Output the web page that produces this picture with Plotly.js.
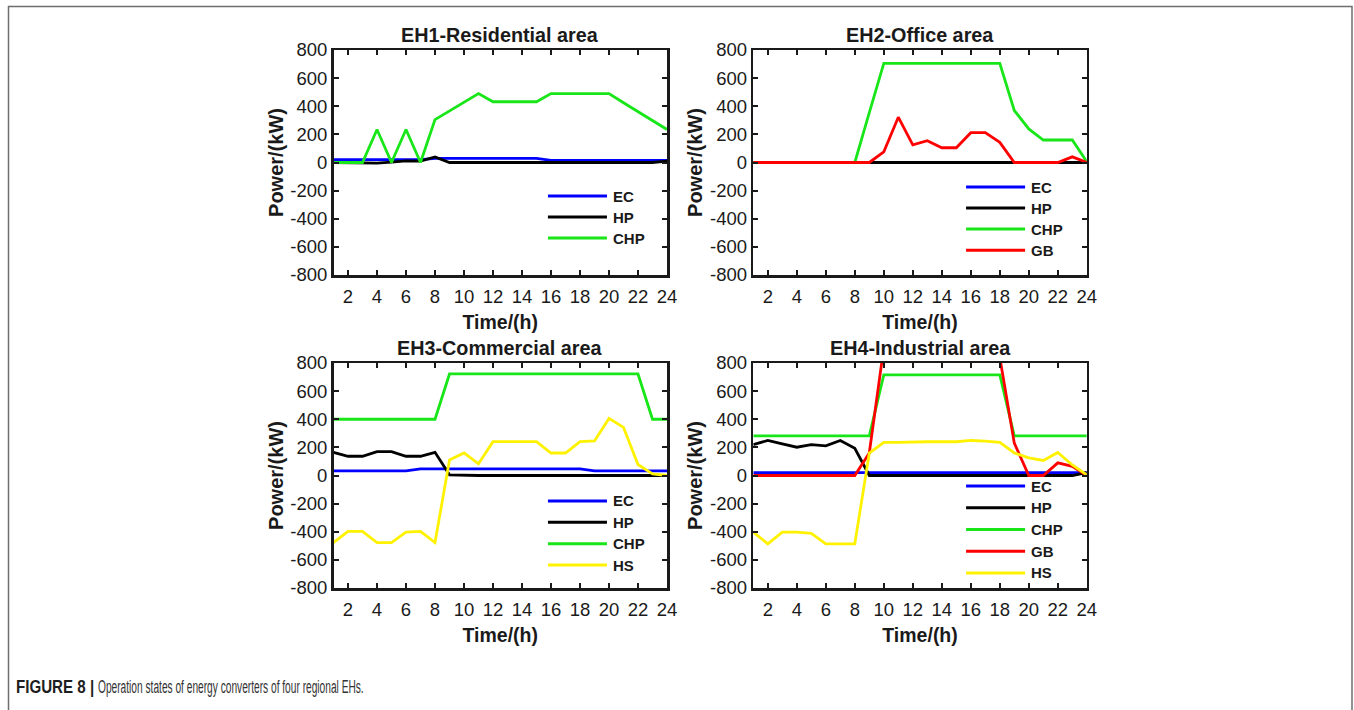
<!DOCTYPE html>
<html>
<head>
<meta charset="utf-8">
<script src="https://cdn.plot.ly/plotly-3.0.1.min.js"></script>
<style>
  html, body { margin: 0; padding: 0; background: #fff; }
  #wrap { position: relative; width: 1354px; height: 710px; overflow: hidden; }
  #chart { width: 1354px; height: 710px; }
  .cap { position: absolute; top: 677px; white-space: nowrap; font-family: "Liberation Sans", Arial, sans-serif;
         font-size: 18px; line-height: 20px; transform-origin: 0 50%; }
  #capB { left: 16px; font-weight: bold; color: #1e1e1e; transform: scaleX(0.84); }
  #capN { left: 98px; color: #333333; transform: scaleX(0.565); }
</style>
</head>
<body>
<div id="wrap">
<div id="chart"></div>
<div class="cap" id="capB"></div>
<div class="cap" id="capN"></div>
</div>
<script>
// ---------------- DATA ----------------
const hours = [1,2,3,4,5,6,7,8,9,10,11,12,13,14,15,16,17,18,19,20,21,22,23,24];

const panelTitles = ["EH1-Residential area", "EH2-Office area", "EH3-Commercial area", "EH4-Industrial area"];
const seriesNames = ["EC", "HP", "CHP", "GB", "HS"];
const seriesColors = ["#0000ff", "#000000", "#19e619", "#ff0000", "#fff200"];

const xTickVals = [2,4,6,8,10,12,14,16,18,20,22,24];
const yTickVals = [800,600,400,200,0,-200,-400,-600,-800];
const yTickText = ["800","600","400","200","0","-200","-400","-600","-800"];
const xTitle = "Time/(h)";
const yTitle = "Power/(kW)";
const captionLabel = "FIGURE 8 |";
const captionText = "Operation states of energy converters of four regional EHs.";

// EH1 - Residential
const eh1_EC  = [20,20,20,20,20,20,20,30,30,30,30,30,30,30,30,15,15,15,15,15,15,15,15,15];
const eh1_HP  = [0,0,0,-4,3,12,10,40,0,0,0,0,0,0,0,0,0,0,0,0,0,0,0,10];
const eh1_CHP = [0,0,0,235,0,235,0,305,368,430,490,432,432,432,432,490,490,490,490,490,425,360,298,235];

// EH2 - Office
const eh2_EC  = [0,0,0,0,0,0,0,0,0,0,0,0,0,0,0,0,0,0,0,0,0,0,0,0];
const eh2_HP  = [0,0,0,0,0,0,0,0,0,0,0,0,0,0,0,0,0,0,0,0,0,0,0,0];
const eh2_CHP = [0,0,0,0,0,0,0,0,355,705,705,705,705,705,705,705,705,705,370,239,160,160,160,5];
const eh2_GB  = [0,0,0,0,0,0,0,0,0,76,322,126,155,105,105,212,212,143,0,0,0,0,40,0];

// EH3 - Commercial
const eh3_EC  = [33,33,33,33,33,33,47,47,47,47,47,47,47,47,47,47,47,47,33,33,33,33,33,33];
const eh3_HP  = [165,137,137,170,170,137,137,165,5,0,0,0,0,0,0,0,0,0,0,0,0,0,0,0];
const eh3_CHP = [400,400,400,400,400,400,400,400,722,722,722,722,722,722,722,722,722,722,722,722,722,722,400,400];
const eh3_HS  = [-477,-397,-397,-477,-477,-402,-397,-477,111,160,83,241,241,241,241,160,160,241,246,406,342,78,12,0];

// EH4 - Industrial
const eh4_EC  = [20,20,20,20,20,20,20,20,20,20,20,20,20,20,20,20,20,20,20,20,20,20,20,20];
const eh4_HP  = [220,249,225,201,220,211,249,194,0,0,0,0,0,0,0,0,0,0,0,0,0,0,0,20];
const eh4_CHP = [282,282,282,282,282,282,282,282,282,716,716,716,716,716,716,716,716,716,282,282,282,282,282,282];
const eh4_GB  = [0,0,0,0,0,0,0,0,160,910,880,880,880,880,880,880,880,840,230,0,0,90,65,0];
const eh4_HS  = [-403,-486,-403,-403,-412,-486,-486,-486,159,235,235,240,240,240,240,249,245,235,160,125,107,164,75,5];

// ---------------- LAYOUT HELPERS ----------------
const W = 1354, H = 710;
const FONT = "Liberation Sans, Arial, Helvetica, sans-serif";
const INK = "#1a1a1a";

// pixel boxes of the four axes [left, right, top, bottom]
const boxes = [
  [333.5, 667.0, 50, 275],
  [753.3, 1086.8, 50, 275],
  [333.5, 667.0, 363, 588],
  [753.3, 1086.8, 363, 588]
];
// legend placement (domain fractions): line start, line end, first row y, row step
const legendPos = [
  {x0: 0.643, x1: 0.820, y0: 0.351, dy: 0.0935},
  {x0: 0.638, x1: 0.815, y0: 0.391, dy: 0.0935},
  {x0: 0.643, x1: 0.820, y0: 0.387, dy: 0.0950},
  {x0: 0.638, x1: 0.815, y0: 0.453, dy: 0.0965}
];

const panels = [
  {EC: eh1_EC, HP: eh1_HP, CHP: eh1_CHP},
  {EC: eh2_EC, HP: eh2_HP, CHP: eh2_CHP, GB: eh2_GB},
  {EC: eh3_EC, HP: eh3_HP, CHP: eh3_CHP, HS: eh3_HS},
  {EC: eh4_EC, HP: eh4_HP, CHP: eh4_CHP, GB: eh4_GB, HS: eh4_HS}
];

const traces = [];
const layout = {
  width: W, height: H,
  margin: {l: 0, r: 0, t: 0, b: 0},
  paper_bgcolor: "#ffffff",
  plot_bgcolor: "#ffffff",
  showlegend: false,
  font: {family: FONT, color: INK},
  shapes: [],
  annotations: []
};

panels.forEach((p, k) => {
  const n = k + 1;
  const xa = n === 1 ? "x" : "x" + n;
  const ya = n === 1 ? "y" : "y" + n;
  const b = boxes[k];
  const axCommon = {
    showgrid: false, zeroline: false, showline: true, linecolor: INK, linewidth: 2.5,
    mirror: "ticks", ticks: "inside", ticklen: 5, tickwidth: 2, tickcolor: INK,
    tickfont: {family: FONT, size: 18.5, color: INK}, fixedrange: true
  };
  layout["xaxis" + (n === 1 ? "" : n)] = Object.assign({}, axCommon, {
    domain: [b[0] / W, b[1] / W], anchor: ya, range: [1, 24],
    tickmode: "array", tickvals: xTickVals, ticklabelstandoff: 3,
    title: {text: "<b>" + xTitle + "</b>", font: {family: FONT, size: 19.5, color: INK}, standoff: 10}
  });
  layout["yaxis" + (n === 1 ? "" : n)] = Object.assign({}, axCommon, {
    domain: [1 - b[3] / H, 1 - b[2] / H], anchor: xa, range: [-800, 800],
    tickmode: "array", tickvals: yTickVals, ticktext: yTickText,
    title: {text: "<b>" + yTitle + "</b>", font: {family: FONT, size: 20, color: INK}, standoff: 2}
  });

  // panel title
  layout.annotations.push({
    xref: xa + " domain", yref: ya + " domain", x: 0.5, y: 1, yshift: 15,
    xanchor: "center", yanchor: "middle", showarrow: false,
    text: "<b>" + panelTitles[k] + "</b>",
    font: {family: FONT, size: 19.8, color: INK}
  });

  const lp = legendPos[k];
  let row = 0;
  seriesNames.forEach((name, si) => {
    if (!(name in p)) return;
    traces.push({
      type: "scatter", mode: "lines", name: name,
      x: hours, y: p[name], xaxis: xa, yaxis: ya,
      line: {color: seriesColors[si], width: 2.8},
      hoverinfo: "x+y+name"
    });
    const yy = lp.y0 - row * lp.dy;
    layout.shapes.push({
      type: "line", xref: xa + " domain", yref: ya + " domain",
      x0: lp.x0, x1: lp.x1, y0: yy, y1: yy,
      line: {color: seriesColors[si], width: 3}
    });
    layout.annotations.push({
      xref: xa + " domain", yref: ya + " domain", x: lp.x1, xshift: 4, y: yy,
      xanchor: "left", yanchor: "middle", showarrow: false,
      text: "<b>" + name + "</b>",
      font: {family: FONT, size: 15, color: INK}
    });
    row++;
  });
});

// page frame
layout.shapes.push({
  type: "rect", xref: "paper", yref: "paper",
  x0: 8.5 / W, x1: 1352 / W, y0: -0.05, y1: 1 - 6.5 / H,
  line: {color: "#6e6e6e", width: 1.5}, fillcolor: "rgba(0,0,0,0)"
});

// caption (real text, condensed like the journal face)
document.getElementById("capB").textContent = captionLabel;
document.getElementById("capN").textContent = captionText;

Plotly.newPlot("chart", traces, layout, {displayModeBar: false, staticPlot: true});
</script>
</body>
</html>
